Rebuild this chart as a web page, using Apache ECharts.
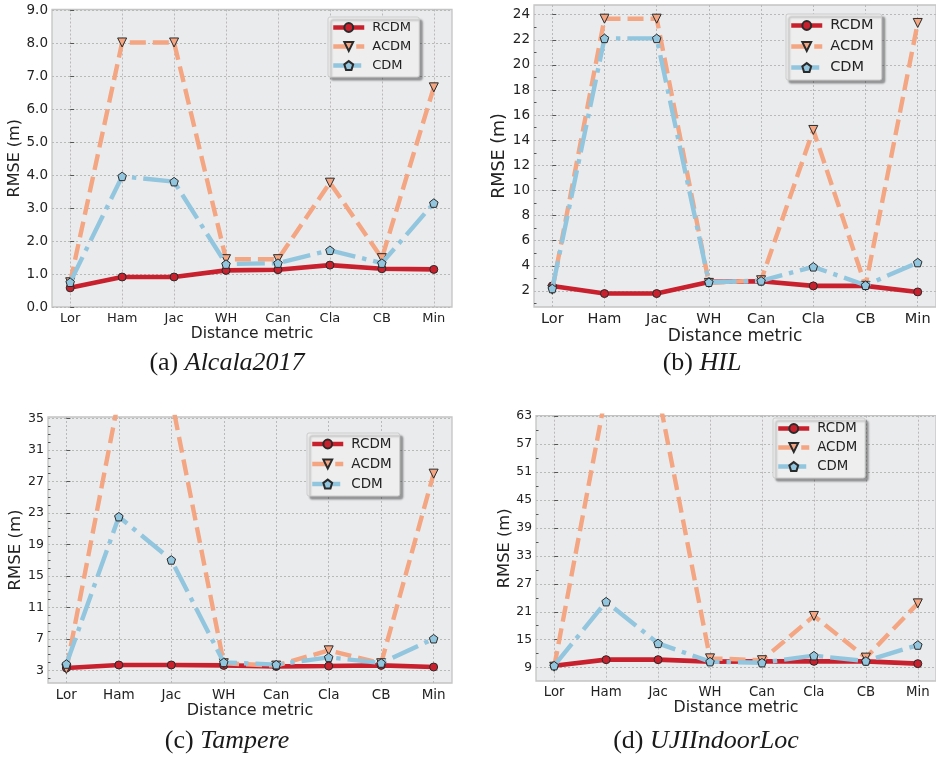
<!DOCTYPE html>
<html>
<head>
<meta charset="utf-8">
<script src="https://cdn.jsdelivr.net/npm/echarts@6/dist/echarts.min.js"></script>
<style>
  html, body { margin: 0; padding: 0; background: #ffffff; }
  #chart { width: 936px; height: 758px; }
</style>
</head>
<body>
<div id="chart"></div>
<script>
// Distance metric abbreviations on the x axis
const categories = ['Lor', 'Ham', 'Jac', 'WH', 'Can', 'Cla', 'CB', 'Min'];
const methodNames = ['RCDM', 'ACDM', 'CDM'];

// (a) Alcala2017 — RMSE in metres
const alcalaRCDM = [0.58, 0.91, 0.91, 1.11, 1.13, 1.27, 1.16, 1.14];
const alcalaACDM = [0.75, 8.02, 8.02, 1.45, 1.45, 3.77, 1.48, 6.66];
const alcalaCDM  = [0.75, 3.96, 3.80, 1.30, 1.33, 1.72, 1.33, 3.15];

// (b) HIL
const hilRCDM = [2.40, 1.79, 1.79, 2.72, 2.77, 2.40, 2.40, 1.92];
const hilACDM = [2.10, 23.68, 23.68, 2.64, 2.85, 14.82, 2.40, 23.34];
const hilCDM  = [2.19, 22.11, 22.11, 2.69, 2.80, 3.92, 2.45, 4.26];

// (c) Tampere
const tampereRCDM = [3.30, 3.68, 3.68, 3.63, 3.50, 3.55, 3.63, 3.42];
const tampereACDM = [3.17, 37.6, 37.6, 3.90, 3.60, 5.54, 3.90, 28.0];
const tampereCDM  = [3.80, 22.53, 17.03, 4.01, 3.72, 4.65, 3.93, 7.02];

// (d) UJIIndoorLoc
const ujiRCDM = [9.43, 10.72, 10.72, 10.29, 10.36, 10.36, 10.36, 9.86];
const ujiACDM = [9.20, 68.0, 68.0, 11.00, 10.60, 20.10, 11.15, 22.80];
const ujiCDM  = [9.43, 23.16, 14.22, 10.29, 10.07, 11.58, 10.43, 13.86];

// y-axis tick values per panel
const alcalaTicks  = [0, 1, 2, 3, 4, 5, 6, 7, 8, 9];
const hilTicks     = [2, 4, 6, 8, 10, 12, 14, 16, 18, 20, 22, 24];
const hilMinor     = [1, 3, 5, 7, 9, 11, 13, 15, 17, 19, 21, 23];
const tampereTicks = [3, 7, 11, 15, 19, 23, 27, 31, 35];
const tampereMinor = [2, 4, 5, 6, 8, 9, 10, 12, 13, 14, 16, 17, 18, 20, 21, 22, 24, 25, 26, 28, 29, 30, 32, 33, 34];
const ujiTicks     = [9, 15, 21, 27, 33, 39, 45, 51, 57, 63];
const ujiMinor     = [12, 18, 24, 30, 36, 42, 48, 54, 60];

const captions = [['(a) ', 'Alcala2017'], ['(b) ', 'HIL'], ['(c) ', 'Tampere'], ['(d) ', 'UJIIndoorLoc']];

const FONT = 'DejaVu Sans';
const COLORS = { RCDM: '#c8202d', ACDM: '#f4a582', CDM: '#92c5de' };
const PENTAGON = 'path://M0,-1L0.951,-0.309L0.588,0.809L-0.588,0.809L-0.951,-0.309Z';
const TRI_DOWN = 'path://M-1,-0.85L1,-0.85L0,0.85Z';

const panels = [
  { rect: { left: 52, top: 9.5, width: 400, height: 297.5 }, yMin: 0, yMax: 9.02,
    ticks: alcalaTicks, minor: [], fmt: v => v.toFixed(1), labelSize: 13.5, nameGap: 33,
    legend: { left: 328, top: 17 }, fontSize: 13,
    data: [alcalaRCDM, alcalaACDM, alcalaCDM] },
  { rect: { left: 534, top: 5, width: 404, height: 302 }, yMin: 0.72, yMax: 24.77,
    ticks: hilTicks, minor: hilMinor, fmt: v => String(v), labelSize: 13.5, nameGap: 31,
    legend: { left: 786, top: 14 }, fontSize: 14.5,
    data: [hilRCDM, hilACDM, hilCDM] },
  { rect: { left: 48, top: 417, width: 404, height: 266 }, yMin: 1.39, yMax: 35.2,
    ticks: tampereTicks, minor: tampereMinor, fmt: v => String(v), labelSize: 12.5, nameGap: 31,
    legend: { left: 307, top: 433 }, fontSize: 13.5,
    data: [tampereRCDM, tampereACDM, tampereCDM] },
  { rect: { left: 536, top: 415.7, width: 403, height: 265.3 }, yMin: 6.14, yMax: 63.07,
    ticks: ujiTicks, minor: ujiMinor, fmt: v => String(v), labelSize: 12.3, nameGap: 31,
    legend: { left: 773, top: 418 }, fontSize: 13.3,
    data: [ujiRCDM, ujiACDM, ujiCDM] }
];

const grid = [], xAxis = [], yAxis = [], series = [], legend = [], graphic = [];
const catIdx = categories.map((c, i) => i);
const gridLine = { show: true, lineStyle: { color: '#b9b9b9', width: 1, type: [2, 2] } };

panels.forEach((p, k) => {
  grid.push(Object.assign({ show: true, backgroundColor: '#eaebed', borderColor: '#c4c4c4', borderWidth: 1.3 }, p.rect));

  xAxis.push({
    type: 'value', gridIndex: k, min: -0.35, max: categories.length - 1 + 0.35,
    name: 'Distance metric', nameLocation: 'middle', nameGap: 27,
    nameTextStyle: { fontFamily: FONT, fontSize: p.fontSize + 2.5, color: '#222', verticalAlign: 'middle' },
    axisLine: { show: false },
    axisTick: { show: false, customValues: catIdx },
    axisLabel: { customValues: catIdx, formatter: v => categories[Math.round(v)], margin: 5,
      fontFamily: FONT, fontSize: p.fontSize, color: '#222' },
    splitLine: gridLine
  });

  yAxis.push({
    type: 'value', gridIndex: k, min: p.yMin, max: p.yMax,
    name: 'RMSE (m)', nameLocation: 'middle', nameGap: p.nameGap, nameRotate: 90,
    nameTextStyle: { fontFamily: FONT, fontSize: p.fontSize + 3, color: '#222', verticalAlign: 'middle' },
    axisLine: { show: false },
    axisTick: { show: true, inside: true, length: 4, customValues: p.ticks, lineStyle: { color: '#555', width: 1 } },
    axisLabel: { customValues: p.ticks, formatter: p.fmt, margin: 4,
      fontFamily: FONT, fontSize: p.labelSize, color: '#222' },
    splitLine: gridLine
  });
  // secondary y axis carrying the minor ticks only
  yAxis.push({
    type: 'value', gridIndex: k, min: p.yMin, max: p.yMax, position: 'left',
    axisLine: { show: false },
    axisTick: { show: p.minor.length > 0, inside: true, length: 2.5,
      customValues: p.minor.length ? p.minor : [p.yMin], lineStyle: { color: '#555', width: 1 } },
    axisLabel: { show: false },
    splitLine: { show: false }
  });

  const yIdx = k * 2;
  const defs = [
    { name: 'RCDM', symbol: 'circle', size: 8, line: { type: 'solid', width: 4.6 } },
    { name: 'ACDM', symbol: TRI_DOWN, size: 9, line: { type: [16, 7], width: 4.4, dashOffset: 0 } },
    { name: 'CDM', symbol: PENTAGON, size: 8.5, line: { type: [28, 7, 4.4, 7], width: 4.4, dashOffset: 0 } }
  ];
  defs.forEach((d, j) => {
    series.push({
      type: 'line', name: d.name, xAxisIndex: k, yAxisIndex: yIdx,
      data: p.data[j].map((v, i) => [i, v]),
      symbol: d.symbol, symbolSize: d.size, showAllSymbol: true,
      clip: true, silent: true,
      lineStyle: Object.assign({ color: COLORS[d.name] }, d.line),
      itemStyle: { color: COLORS[d.name], borderColor: '#2a2a2a', borderWidth: 1 },
      z: 2 + j
    });
  });

  legend.push({
    orient: 'vertical', left: p.legend.left, top: p.legend.top,
    data: methodNames, selectedMode: false,
    itemWidth: 31, itemHeight: 11, itemGap: 6,
    padding: [4, 8, 5, 3],
    backgroundColor: '#eeeeee', borderColor: '#cccccc', borderWidth: 1, borderRadius: 2,
    shadowColor: 'rgba(0,0,0,0.35)', shadowBlur: 2, shadowOffsetX: 3, shadowOffsetY: 3,
    lineStyle: { width: 4.5 },
    textStyle: { fontFamily: FONT, fontSize: p.fontSize, color: '#222', padding: [0, 0, 0, 3] }
  });
});

const capPos = [[227, 363], [702, 363], [227, 741], [706, 741]];
captions.forEach((c, k) => {
  graphic.push({
    type: 'text', x: capPos[k][0], y: capPos[k][1],
    style: {
      text: '{n|' + c[0] + '}{i|' + c[1] + '}',
      align: 'center', verticalAlign: 'middle',
      rich: {
        n: { fontFamily: 'Liberation Serif', fontSize: 26, fill: '#1a1a1a' },
        i: { fontFamily: 'Liberation Serif', fontSize: 26, fontStyle: 'italic', fill: '#1a1a1a' }
      }
    }
  });
});

const chart = echarts.init(document.getElementById('chart'), null, { renderer: 'canvas' });
chart.setOption({
  animation: false,
  backgroundColor: '#ffffff',
  grid, xAxis, yAxis, series, legend, graphic
});
</script>
</body>
</html>
